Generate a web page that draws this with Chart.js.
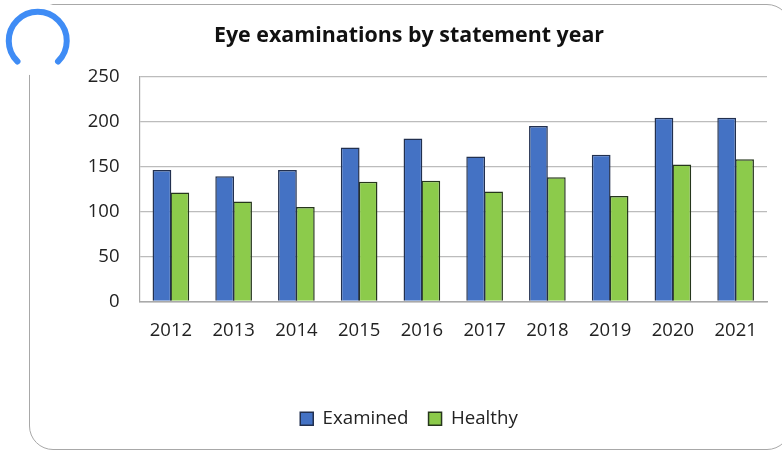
<!DOCTYPE html>
<html>
<head>
<meta charset="utf-8">
<style>
html,body{margin:0;padding:0;background:#fff;overflow:hidden;}
#wrap{position:relative;width:782px;height:450px;overflow:hidden;background:#fff;}
#card{position:absolute;left:29px;top:4px;width:760px;height:444px;border:1.5px solid #a8a8a8;border-radius:24px;box-sizing:content-box;}
#chartBox{position:absolute;left:0;top:0;width:782px;height:450px;}
#spin{position:absolute;left:0;top:0;}
</style>
</head>
<body>
<div id="wrap">
<div id="card"></div>
<div id="chartBox"><canvas id="c" width="782" height="450"></canvas></div>
<svg id="spin" width="80" height="80" viewBox="0 0 80 80">
<circle cx="38" cy="39" r="37" fill="#fff"/>
<path d="M17.5 61.5 A29 29 0 1 1 58 61.5" fill="none" stroke="#3f8cf5" stroke-width="6" stroke-linecap="round"/>
</svg>
</div>
<script src="https://cdn.jsdelivr.net/npm/chart.js@4"></script>
<script>
const categories = ['2012','2013','2014','2015','2016','2017','2018','2019','2020','2021'];
const examined = [146,139,146,171,181,161,195,163,204,204];
const healthy = [121,111,105,133,134,122,138,117,152,158];
const yMax = 250, yStep = 50;
const titleText = 'Eye examinations by statement year';
const fontFamily = '"Open Sans","Noto Sans",sans-serif';

new Chart(document.getElementById('c'), {
  type: 'bar',
  data: {
    labels: categories,
    datasets: [
      {label:'Examined', data:examined, backgroundColor:'#4472c4', borderColor:'#22304f', borderWidth:1.5, categoryPercentage:0.57, barPercentage:1.05},
      {label:'Healthy', data:healthy, backgroundColor:'#8ccb4b', borderColor:'#26361c', borderWidth:1.5, categoryPercentage:0.57, barPercentage:1.05}
    ]
  },
  options: {
    responsive:false,
    animation:false,
    layout:{padding:{left:51,right:15,top:0,bottom:12}},
    plugins:{
      title:{display:true,text:titleText,color:'#111',font:{family:fontFamily,size:21.4,weight:'bold'},padding:{top:23.5,bottom:27.3}},
      legend:{position:'bottom',labels:{color:'#222',font:{family:fontFamily,size:18.7},boxWidth:13,boxHeight:13,padding:20},onClick:null},
      tooltip:{enabled:false}
    },
    scales:{
      x:{
        afterFit(s){s.height=88;},
        grid:{display:false,drawTicks:false},
        border:{color:'#a9a9a9',width:1.5},
        ticks:{color:'#222',font:{family:fontFamily,size:18.5},padding:18,maxRotation:0}
      },
      y:{
        min:0,max:yMax,
        afterFit(s){s.width=88.5;},
        grid:{color:'#bcbcbc',lineWidth:1.2,drawTicks:false},
        border:{color:'#a9a9a9',width:1.2},
        ticks:{stepSize:yStep,color:'#222',font:{family:fontFamily,size:18.5},padding:20}
      }
    }
  }
});
</script>
</body>
</html>
